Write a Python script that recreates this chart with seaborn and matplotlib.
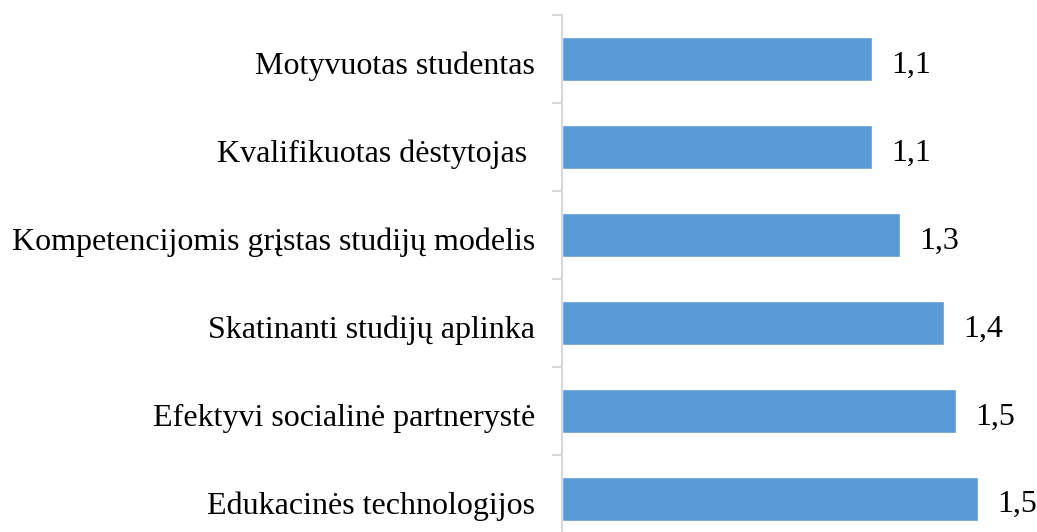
import matplotlib
matplotlib.use("Agg")
import matplotlib.pyplot as plt
import matplotlib.transforms as mtransforms
import seaborn as sns
import pandas as pd

categories = [
    "Motyvuotas studentas",
    "Kvalifikuotas dėstytojas ",
    "Kompetencijomis grįstas studijų modelis",
    "Skatinanti studijų aplinka",
    "Efektyvi socialinė partnerystė",
    "Edukacinės technologijos",
]
values = [1.147, 1.147, 1.25, 1.415, 1.459, 1.54]
value_labels = ["1,1", "1,1", "1,3", "1,4", "1,5", "1,5"]

sns.set_theme(style="white")
plt.rcParams["font.family"] = ["Liberation Serif", "DejaVu Serif"]

df = pd.DataFrame({"cat": categories, "val": values})

fig = plt.figure(figsize=(10.37, 5.32), dpi=100)
ax = fig.add_axes([562 / 1037, -10.5 / 532, (1037 - 562) / 1037, 527.5 / 532])

sns.barplot(data=df, x="val", y="cat", orient="h", color="#5B9BD5",
            saturation=1, width=0.5, ax=ax)

ax.set_xlim(0, 475 / 270)
ax.set_ylim(5.5, -0.5)
ax.set_xlabel("")
ax.set_ylabel("")
ax.set_xticks([])

for s in ["top", "right", "bottom"]:
    ax.spines[s].set_visible(False)
ax.spines["left"].set_color("#D9D9D9")
ax.spines["left"].set_linewidth(1.5)

ax.set_yticks([i - 0.5 for i in range(7)], minor=True)
ax.tick_params(axis="y", which="minor", length=7, width=1.5, color="#D9D9D9", left=True)
ax.tick_params(axis="y", which="major", length=0, pad=19.5, labelsize=23, labelcolor="black")

shift = mtransforms.ScaledTranslation(0, -4 / 100, fig.dpi_scale_trans)
for lbl in ax.get_yticklabels():
    lbl.set_transform(lbl.get_transform() + shift)

for i, (v, lab) in enumerate(zip(values, value_labels)):
    ax.annotate(lab, xy=(v, i), xytext=(14, -4.5), textcoords="offset points",
                ha="left", va="center", fontsize=23, color="black")

fig.savefig("out.png", dpi=100)
